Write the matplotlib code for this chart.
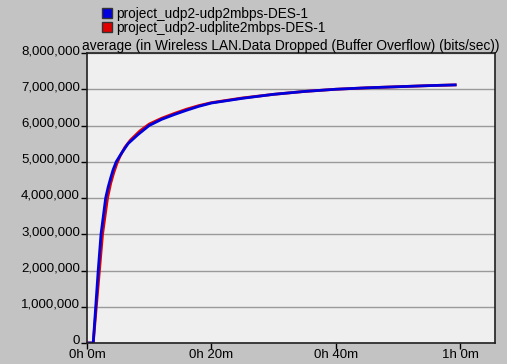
import matplotlib.pyplot as plt
from matplotlib.ticker import FuncFormatter
from matplotlib.patches import Patch
from matplotlib.transforms import ScaledTranslation

# time in minutes, data dropped in bits/sec
t_udp = [0, 1.0, 1.4, 1.8, 2.25, 3.0, 3.4, 3.8, 4.2, 4.7, 5.6, 6.6, 8.2, 10,
         12, 14, 16, 18, 20, 25, 30, 35, 40, 45, 50, 55, 59.2]
v_udp = [0, 0, 1.0e6, 2.0e6, 3.0e6, 4.0e6, 4.3e6, 4.55e6, 4.78e6, 5.0e6,
         5.25e6, 5.5e6, 5.75e6, 6.0e6, 6.17e6, 6.3e6, 6.42e6, 6.53e6, 6.62e6,
         6.75e6, 6.86e6, 6.94e6, 7.0e6, 7.04e6, 7.07e6, 7.1e6, 7.12e6]

t_lite = [0, 1.0, 1.5, 2.0, 2.5, 3.3, 3.8, 4.3, 4.8, 5.3, 6.1, 7.0, 8.5, 10,
          12, 14, 16, 18, 20, 25, 30, 35, 40, 45, 50, 55, 59.2]
v_lite = [0, 0, 1.0e6, 2.0e6, 3.0e6, 4.0e6, 4.4e6, 4.7e6, 4.95e6, 5.15e6,
          5.4e6, 5.6e6, 5.85e6, 6.04e6, 6.2e6, 6.33e6, 6.45e6, 6.55e6, 6.63e6,
          6.76e6, 6.86e6, 6.94e6, 7.0e6, 7.04e6, 7.07e6, 7.1e6, 7.12e6]

x_ticks = [0, 20, 40, 60]
x_labels = ["0h 0m", "0h 20m", "0h 40m", "1h 0m"]
names = ["project_udp2-udp2mbps-DES-1", "project_udp2-udplite2mbps-DES-1"]

plt.rcParams['font.family'] = 'Liberation Sans'

fig = plt.figure(figsize=(5.07, 3.64), dpi=100, facecolor='#c3c3c3')
ax = fig.add_axes([87/507, 1 - 343/364, (495-87)/507, (343-53)/364])
ax.set_facecolor('#efefef')

ax.plot(t_lite, v_lite, color='#e00000', linewidth=2)
ax.plot(t_udp, v_udp, color='#0000dd', linewidth=2)

ax.set_xlim(0, 65.6)
ax.set_ylim(0, 8e6)
ax.set_yticks(range(0, 8000001, 1000000))
ax.yaxis.set_major_formatter(FuncFormatter(lambda v, p: f"{int(v):,}"))
ax.set_xticks(x_ticks)
ax.set_xticklabels(x_labels)
ax.tick_params(labelsize=9.5, length=4, width=1, colors='black')
ax.tick_params(axis='x', pad=0)
ax.tick_params(axis='y', pad=1)
ax.grid(axis='y', color='#9a9a9a', linewidth=1)
ax.set_axisbelow(True)
for s in ax.spines.values():
    s.set_color('#202020')
    s.set_linewidth(1.2)

# value labels sit a little above their ticks
lift = ScaledTranslation(0, 0.035, fig.dpi_scale_trans)
for lbl in ax.get_yticklabels():
    lbl.set_transform(lbl.get_transform() + lift)

ax.set_title("average (in Wireless LAN.Data Dropped (Buffer Overflow) (bits/sec))",
             fontsize=9.9, pad=1)

handles = [Patch(facecolor='#0000dd', edgecolor='#333333'),
           Patch(facecolor='#e00000', edgecolor='#333333')]
fig.legend(handles, names, loc='upper left', bbox_to_anchor=(90/507, 1.015),
           frameon=False, fontsize=9.8, handlelength=0.75, handleheight=0.75,
           handletextpad=0.3, labelspacing=0.0)

fig.savefig("out.png", dpi=100, facecolor=fig.get_facecolor())
